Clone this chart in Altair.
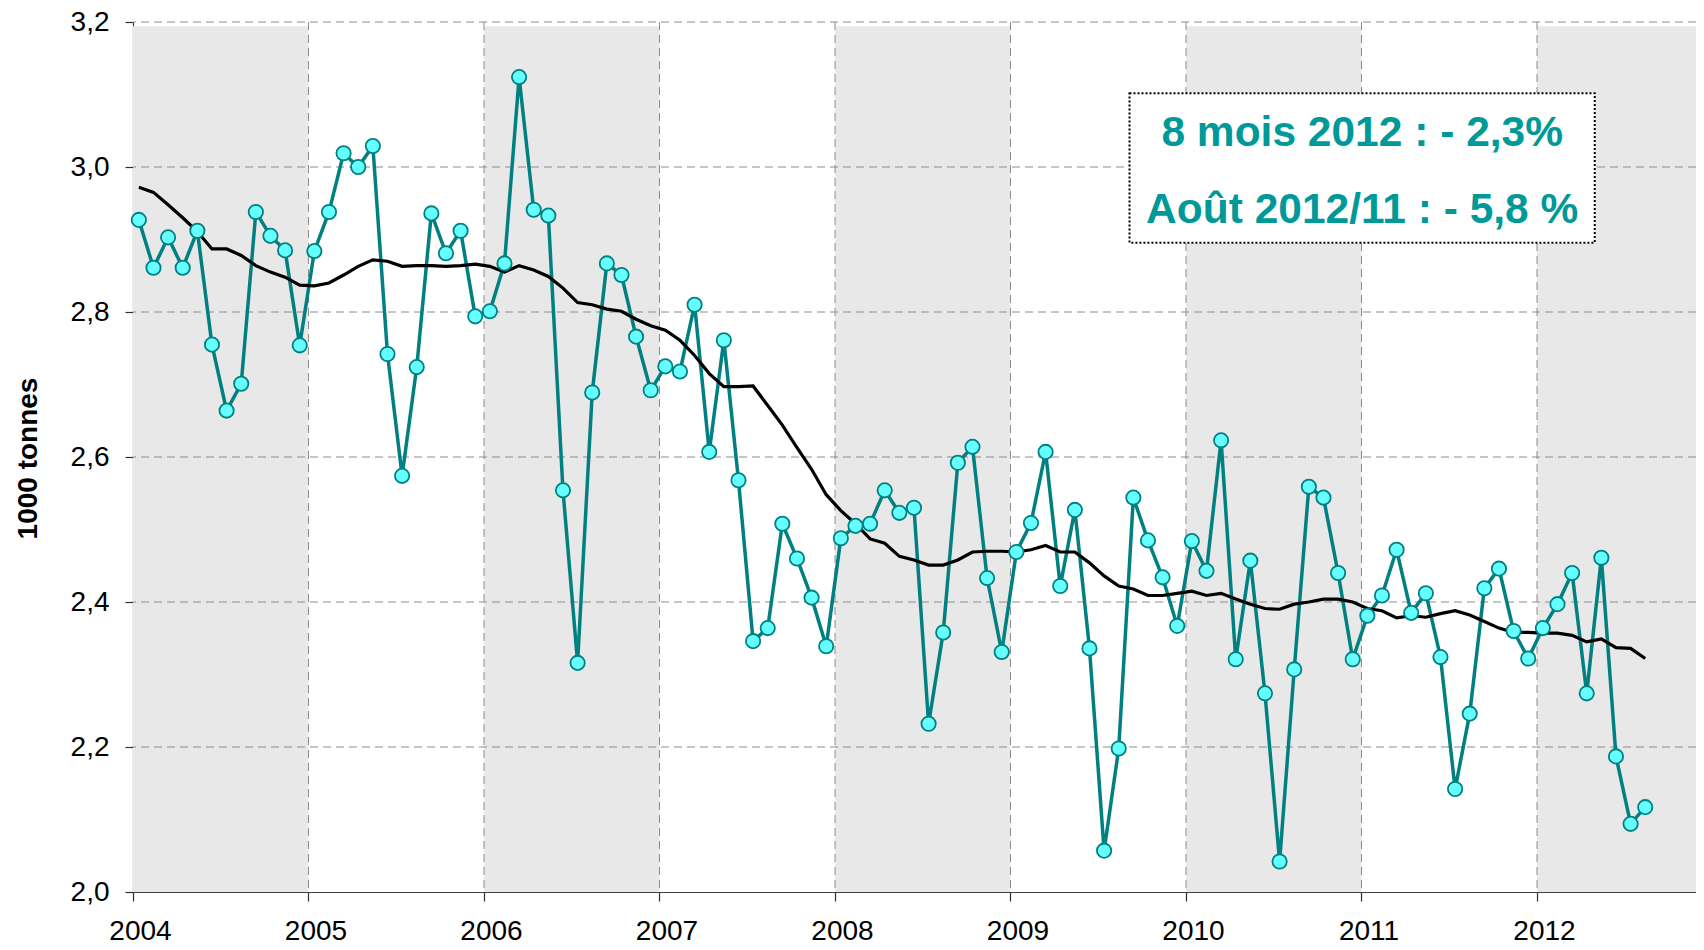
import altair as alt
import pandas as pd

# ---------------- data ----------------
years = [2004, 2005, 2006, 2007, 2008, 2009, 2010, 2011, 2012]
shaded_years = [2004, 2006, 2008, 2010, 2012]
y_ticks = [2.0, 2.2, 2.4, 2.6, 2.8, 3.0, 3.2]

monthly = [
    2.927, 2.861, 2.903, 2.861, 2.912, 2.755, 2.664, 2.701, 2.938, 2.905, 2.885, 2.754,  # 2004
    2.884, 2.938, 3.019, 3.000, 3.029, 2.742, 2.574, 2.724, 2.936, 2.881, 2.912, 2.794,  # 2005
    2.801, 2.867, 3.124, 2.941, 2.933, 2.554, 2.316, 2.689, 2.867, 2.851, 2.766, 2.692,  # 2006
    2.725, 2.718, 2.810, 2.607, 2.761, 2.568, 2.346, 2.364, 2.508, 2.460, 2.406, 2.339,  # 2007
    2.488, 2.505, 2.508, 2.554, 2.523, 2.530, 2.232, 2.358, 2.592, 2.614, 2.433, 2.331,  # 2008
    2.469, 2.509, 2.607, 2.422, 2.527, 2.336, 2.057, 2.198, 2.544, 2.485, 2.434, 2.367,  # 2009
    2.484, 2.443, 2.623, 2.321, 2.457, 2.274, 2.042, 2.307, 2.559, 2.544, 2.440, 2.321,  # 2010
    2.381, 2.409, 2.472, 2.385, 2.412, 2.324, 2.142, 2.246, 2.419, 2.446, 2.360, 2.322,  # 2011
    2.364, 2.397, 2.440, 2.274, 2.461, 2.187, 2.094, 2.117,                              # 2012
]

moving_avg = [
    2.972, 2.965, 2.948, 2.930, 2.911, 2.887, 2.887, 2.878, 2.864, 2.855, 2.848, 2.837,  # 2004
    2.836, 2.840, 2.851, 2.863, 2.872, 2.870, 2.863, 2.864, 2.864, 2.863, 2.864, 2.866,  # 2005
    2.863, 2.855, 2.864, 2.858, 2.849, 2.833, 2.813, 2.810, 2.804, 2.801, 2.790, 2.781,  # 2006
    2.775, 2.761, 2.740, 2.715, 2.697, 2.697, 2.698, 2.671, 2.644, 2.613, 2.583, 2.548,  # 2007
    2.526, 2.508, 2.487, 2.481, 2.463, 2.458, 2.451, 2.451, 2.458, 2.469, 2.470, 2.470,  # 2008
    2.469, 2.472, 2.478, 2.469, 2.469, 2.454, 2.436, 2.422, 2.418, 2.409, 2.409, 2.412,  # 2009
    2.415, 2.409, 2.412, 2.404, 2.397, 2.391, 2.390, 2.397, 2.400, 2.404, 2.404, 2.400,  # 2010
    2.391, 2.388, 2.378, 2.381, 2.379, 2.384, 2.388, 2.382, 2.373, 2.364, 2.358, 2.358,  # 2011
    2.357, 2.357, 2.354, 2.345, 2.349, 2.337, 2.336, 2.322,                              # 2012
]

note_lines = ["8 mois 2012 : - 2,3%", "Août 2012/11 : - 5,8 %"]

# ---------------- layout constants ----------------
FONT = "Liberation Sans"
TEAL = "#008080"
TEXT_TEAL = "#009999"
X_END = 2004 + 1563 / 175.5
Y_MIN, Y_MAX = 2.0, 3.2

t = [2004 + (i + 0.4) / 12 for i in range(len(monthly))]
df = pd.DataFrame({"t": t, "v": monthly, "ma": moving_avg})

bands = pd.DataFrame({
    "x": shaded_years,
    "x2": [min(y + 1, X_END) for y in shaded_years],
    "y": [Y_MIN] * len(shaded_years),
    "y2": [3.194] * len(shaded_years),
})
hgrid = pd.DataFrame({"y": [v for v in y_ticks if v > Y_MIN]})
vgrid = pd.DataFrame({"x": [y for y in years if y > 2004]})
xlabels = pd.DataFrame({"x": years, "lab": [str(y) for y in years]})

box = pd.DataFrame({"x": [2009.678], "x2": [2012.329], "y": [2.8956], "y2": [3.1017]})
notes = pd.DataFrame({"x": [2011.004, 2011.004], "y": [3.029, 2.9232], "txt": note_lines})

xscale = alt.Scale(domain=[2004, X_END], nice=False, zero=False)
yscale = alt.Scale(domain=[Y_MIN, Y_MAX], nice=False, zero=False)

xaxis = alt.Axis(
    values=years, title=None, grid=False, labels=False,
    domainColor="#404040", domainWidth=1.2, tickColor="#303030", tickWidth=1.2, tickSize=9,
)
yaxis = alt.Axis(
    values=y_ticks, grid=False,
    labelExpr="replace(format(datum.value, '.1f'), '.', ',')",
    domainColor="#404040", domainWidth=1.2, tickColor="#303030", tickWidth=1.2, tickSize=8,
    labelFont=FONT, labelFontSize=28, labelColor="black", labelPadding=16,
    labelOverlap=False, labelFlush=False,
    title="1000 tonnes", titleFont=FONT, titleFontSize=28, titleFontWeight="bold",
    titleColor="black", titleAngle=270, titleAlign="center", titleBaseline="middle",
    titleX=-105, titleY=436,
)

band_layer = alt.Chart(bands).mark_rect(color="#e8e8e8").encode(
    x=alt.X("x:Q", scale=xscale, axis=xaxis),
    x2="x2:Q",
    y=alt.Y("y:Q", scale=yscale, axis=yaxis),
    y2="y2:Q",
)

hgrid_layer = alt.Chart(hgrid).mark_rule(color="#8c8c8c", strokeWidth=1, strokeDash=[8, 5]).encode(
    y=alt.Y("y:Q", scale=yscale, axis=yaxis)
)
vgrid_layer = alt.Chart(vgrid).mark_rule(color="#8c8c8c", strokeWidth=1, strokeDash=[8, 5]).encode(
    x=alt.X("x:Q", scale=xscale, axis=xaxis)
)

xlabel_layer = alt.Chart(xlabels).mark_text(
    font=FONT, fontSize=28, color="black", align="center", baseline="alphabetic", dx=7.5
).encode(
    x=alt.X("x:Q", scale=xscale, axis=xaxis),
    y=alt.value(918),
    text="lab:N",
)

series_line = alt.Chart(df).mark_line(color=TEAL, strokeWidth=3.5).encode(
    x=alt.X("t:Q", scale=xscale, axis=xaxis),
    y=alt.Y("v:Q", scale=yscale, axis=yaxis),
)
ma_line = alt.Chart(df).mark_line(color="black", strokeWidth=3.2).encode(
    x=alt.X("t:Q", scale=xscale, axis=xaxis),
    y=alt.Y("ma:Q", scale=yscale, axis=yaxis),
)
points = alt.Chart(df).mark_point(
    shape="circle", filled=True, fill="#66ffff", stroke=TEAL, strokeWidth=1.8,
    size=205, opacity=1,
).encode(
    x=alt.X("t:Q", scale=xscale, axis=xaxis),
    y=alt.Y("v:Q", scale=yscale, axis=yaxis),
)

box_layer = alt.Chart(box).mark_rect(
    fill="white", stroke="black", strokeWidth=2, strokeDash=[2, 2]
).encode(
    x=alt.X("x:Q", scale=xscale, axis=xaxis),
    x2="x2:Q",
    y=alt.Y("y:Q", scale=yscale, axis=yaxis),
    y2="y2:Q",
)
note_layer = alt.Chart(notes).mark_text(
    font=FONT, fontSize=42.5, fontWeight="bold", color=TEXT_TEAL,
    align="center", baseline="alphabetic",
).encode(
    x=alt.X("x:Q", scale=xscale, axis=xaxis),
    y=alt.Y("y:Q", scale=yscale, axis=yaxis),
    text="txt:N",
)

chart = alt.layer(
    band_layer, hgrid_layer, vgrid_layer, series_line, ma_line, points,
    box_layer, note_layer, xlabel_layer
).properties(
    width=1563, height=870,
    autosize=alt.AutoSizeParams(type="none"),
    padding={"left": 125, "top": 14, "right": 0, "bottom": 50},
    background="white",
).configure_view(stroke=None)

chart.save("out.html", embed_options={"renderer": "svg", "actions": False})
